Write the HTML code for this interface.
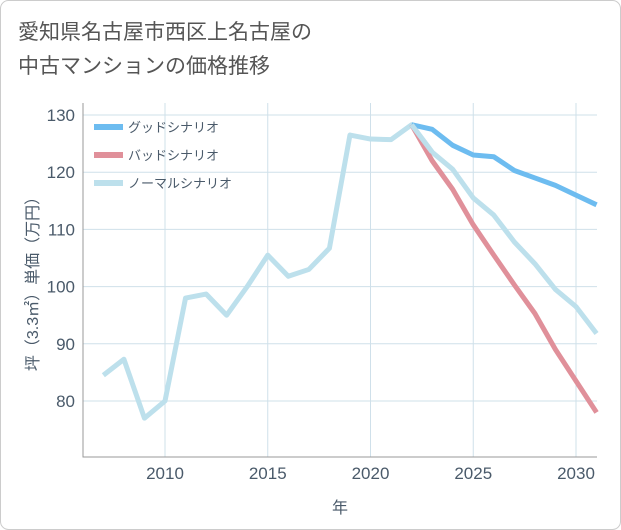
<!DOCTYPE html>
<html><head><meta charset="utf-8"><style>
body{margin:0;background:#fff;}
#wrap{position:relative;width:621px;height:530px;font-family:"Liberation Sans","Noto Sans CJK JP",sans-serif;}
.title{position:absolute;left:18px;font-size:21px;color:#555;}
</style></head><body>
<div id="wrap">
<div class="title" style="top:16px">愛知県名古屋市西区上名古屋の</div>
<div class="title" style="top:50px">中古マンションの価格推移</div>
<svg id="chart" width="621" height="530" style="position:absolute;left:0;top:0"></svg>
</div>
<script>
const years=[2007,2008,2009,2010,2011,2012,2013,2014,2015,2016,2017,2018,2019,2020,2021,2022,2023,2024,2025,2026,2027,2028,2029,2030,2031];
const normalVals=[84.5,87.3,77,80,98,98.7,95,100,105.5,101.8,103,106.7,126.5,125.8,125.7,128.3,123.5,120.5,115.5,112.5,107.8,104,99.5,96.5,91.8];
const goodYears=[2022,2023,2024,2025,2026,2027,2028,2029,2030,2031];
const goodVals=[128.3,127.5,124.7,123,122.7,120.3,119,117.7,116,114.3];
const badVals=[128.3,122,117,110.8,105.5,100.3,95.3,89,83.5,78];
const xTicks=[2010,2015,2020,2025,2030];
const yTicks=[80,90,100,110,120,130];
const ns="http://www.w3.org/2000/svg";
const svg=document.getElementById('chart');
const L=83,R=597,T=103,B=457;
const x=v=>165+(v-2010)*20.55;
const y=v=>401-(v-80)*5.72;
function mk(t,a,txt){const e=document.createElementNS(ns,t);for(const k in a)e.setAttribute(k,a[k]);if(txt!==undefined)e.textContent=txt;svg.appendChild(e);return e;}
mk('rect',{x:0.5,y:0.5,width:620,height:529,rx:8,fill:'none',stroke:'#ccc'});
yTicks.forEach(v=>{
 const l=mk('line',{x1:L,x2:R,y1:y(v),y2:y(v),stroke:'#cfe0ea','stroke-width':1});
 
 const t=mk('text',{x:L-8,y:y(v)+6,'text-anchor':'end','font-size':17,fill:'#4a5a6a'},v);
 
});
xTicks.forEach(v=>{
 const l=mk('line',{x1:x(v),x2:x(v),y1:T,y2:B,stroke:'#cfe0ea','stroke-width':1});
 
 const t=mk('text',{x:x(v),y:B+22,'text-anchor':'middle','font-size':17,fill:'#4a5a6a'},v);
 
});
const ax=mk('path',{d:`M${L},${T}V${B}H${R}`,fill:'none',stroke:'#999','stroke-width':1});

const xt=mk('text',{x:340,y:513,'text-anchor':'middle','font-size':16,fill:'#4a5a6a'},'年');

const yt=mk('text',{x:0,y:0,'text-anchor':'middle','font-size':16,fill:'#4a5a6a',transform:`translate(38,${(T+B)/2}) rotate(-90)`},'坪（3.3㎡）単価（万円）');

function line(xs,vs,c,name){
 const d=xs.map((v,i)=>(i?'L':'M')+x(v)+','+y(vs[i])).join('');
 const p=mk('path',{d:d,fill:'none',stroke:c,'stroke-width':5,'stroke-linejoin':'round'});
 
}
line(years,normalVals,'#bde0ec','normal-scenario-line');
line(goodYears,badVals,'#e0909a','bad-scenario-line');
line(goodYears,goodVals,'#6dbcf0','good-scenario-line');
line(years.slice(15,17),normalVals.slice(15,17),'#bde0ec','normal-scenario-overlay');
const leg=[['グッドシナリオ','#6dbcf0'],['バッドシナリオ','#e0909a'],['ノーマルシナリオ','#bde0ec']];
leg.forEach((g,i)=>{
 const yy=127+i*28;
 const s=mk('line',{x1:94,x2:123,y1:yy,y2:yy,stroke:g[1],'stroke-width':6});
 
 const t=mk('text',{x:128,y:yy+5,'font-size':13,fill:'#4a5a6a'},g[0]);
 
});
</script>
</body></html>
